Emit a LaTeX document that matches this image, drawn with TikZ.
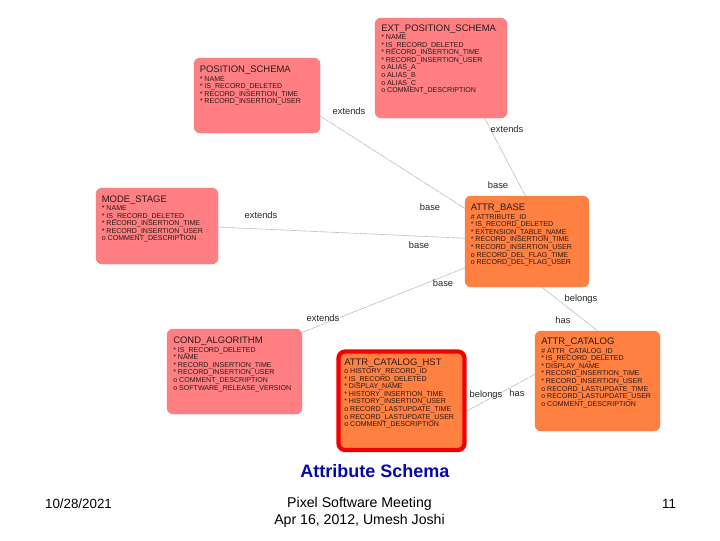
\documentclass[tikz,border=0pt]{standalone}
\usepackage{fontspec}
\setmainfont{Liberation Sans}
\definecolor{pinkbox}{HTML}{FF7F82}
\definecolor{orangebox}{HTML}{FF8040}
\definecolor{linkgray}{HTML}{BDBDBD}
\definecolor{textdark}{HTML}{2A1A1A}
\definecolor{titleblue}{HTML}{0808A8}
\newcommand{\ttl}[1]{{\fontsize{7.1pt}{7.6pt}\selectfont #1}\\[0.4pt]}
\tikzset{
  x=0.75pt,y=-0.75pt,
  erbox/.style={rounded corners=4.5pt,inner sep=0pt,line width=0.3pt},
  pinkent/.style={erbox,fill=pinkbox,draw=pinkbox!85!gray},
  orangeent/.style={erbox,fill=orangebox,draw=orangebox!85!gray},
  redent/.style={erbox,fill=orangebox,draw=red!95!black,line width=3.2pt,rounded corners=5pt},
  attrs/.style={anchor=north west,inner sep=0pt,align=left,text=textdark,
    font=\fontsize{5.3pt}{5.7pt}\selectfont},
  link/.style={draw=linkgray,line width=0.45pt,dash pattern=on 7pt off 0.6pt},
  rel/.style={font=\fontsize{7pt}{8pt}\selectfont,text=black!85,inner sep=0pt},
  footer/.style={font=\fontsize{10.6pt}{12.75pt}\selectfont,text=black,align=center,inner sep=0pt},
}
\newcommand{\ent}[7]{% name, style, x1,y1,x2,y2, width
  \path[#2] (#3,#4) rectangle (#5,#6);
  \node[#2,draw=none,fill=none,minimum width=#7*0.75pt,minimum height={(#6-#4)*0.75pt}] (#1)
    at ({(#3+#5)/2},{(#4+#6)/2}) {};
}
\begin{document}
\begin{tikzpicture}
\useasboundingbox[fill=white] (0,0) rectangle (720,540);

\ent{ext}{pinkent}{375}{18}{507}{118}{132}
\ent{pos}{pinkent}{194}{58}{320}{133}{126}
\ent{mode}{pinkent}{96}{188}{218}{264}{122}
\ent{base}{orangeent}{465}{196}{589}{287}{124}
\ent{cond}{pinkent}{167}{329}{302}{414}{135}
\ent{cat}{orangeent}{535}{331}{660}{431}{125}
\ent{hst}{redent}{338.5}{351.5}{464.5}{450}{126}

\draw[link] (pos.-18) -- (base.152);
\draw[link] (ext.-49) -- (base.92);
\draw[link] (mode.-1) -- (base.177);
\draw[link] (cond.30) -- (base.203);
\draw[link] (base.-72) -- (cat.90);
\draw[link] (hst.-9) -- (cat.174);

\node[attrs] (exttext) at (381,24.5) {\ttl{EXT\_POSITION\_SCHEMA}* NAME\\* IS\_RECORD\_DELETED\\* RECORD\_INSERTION\_TIME\\* RECORD\_INSERTION\_USER\\o ALIAS\_A\\o ALIAS\_B\\o ALIAS\_C\\o COMMENT\_DESCRIPTION};
\node[attrs] (postext) at (199.5,66) {\ttl{POSITION\_SCHEMA}* NAME\\* IS\_RECORD\_DELETED\\* RECORD\_INSERTION\_TIME\\* RECORD\_INSERTION\_USER};
\node[attrs] (modetext) at (101.5,195.5) {\ttl{MODE\_STAGE}* NAME\\* IS\_RECORD\_DELETED\\* RECORD\_INSERTION\_TIME\\* RECORD\_INSERTION\_USER\\o COMMENT\_DESCRIPTION};
\node[attrs] (basetext) at (470.5,204) {\ttl{ATTR\_BASE}\# ATTRIBUTE\_ID\\* IS\_RECORD\_DELETED\\* EXTENSION\_TABLE\_NAME\\* RECORD\_INSERTION\_TIME\\* RECORD\_INSERTION\_USER\\o RECORD\_DEL\_FLAG\_TIME\\o RECORD\_DEL\_FLAG\_USER};
\node[attrs] (condtext) at (173,337) {\ttl{COND\_ALGORITHM}* IS\_RECORD\_DELETED\\* NAME\\* RECORD\_INSERTION\_TIME\\* RECORD\_INSERTION\_USER\\o COMMENT\_DESCRIPTION\\o SOFTWARE\_RELEASE\_VERSION};
\node[attrs] (hsttext) at (344,358.5) {\ttl{ATTR\_CATALOG\_HST}o HISTORY\_RECORD\_ID\\* IS\_RECORD\_DELETED\\* DISPLAY\_NAME\\* HISTORY\_INSERTION\_TIME\\* HISTORY\_INSERTION\_USER\\o RECORD\_LASTUPDATE\_TIME\\o RECORD\_LASTUPDATE\_USER\\o COMMENT\_DESCRIPTION};
\node[attrs] (cattext) at (541,338) {\ttl{ATTR\_CATALOG}\# ATTR\_CATALOG\_ID\\* IS\_RECORD\_DELETED\\* DISPLAY\_NAME\\* RECORD\_INSERTION\_TIME\\* RECORD\_INSERTION\_USER\\o RECORD\_LASTUPDATE\_TIME\\o RECORD\_LASTUPDATE\_USER\\o COMMENT\_DESCRIPTION};

\node[rel] (l1) at (349,111) {extends};
\node[rel] (l2) at (507,129) {extends};
\node[rel] (l3) at (498,185) {base};
\node[rel] (l4) at (430,207) {base};
\node[rel] (l5) at (261,215) {extends};
\node[rel] (l6) at (419,245.5) {base};
\node[rel] (l7) at (443,283) {base};
\node[rel] (l8) at (323,318) {extends};
\node[rel] (l9) at (581,299) {belongs};
\node[rel] (l10) at (563,320) {has};
\node[rel] (l11) at (486,395) {belongs};
\node[rel] (l12) at (517,393) {has};

\node[font=\bfseries\fontsize{13.5pt}{15pt}\selectfont,text=titleblue,inner sep=0pt] (cap) at (375,471) {Attribute Schema};
\node[footer,font=\fontsize{10pt}{12pt}\selectfont] (date) at (78.5,504) {10/28/2021};
\node[footer,anchor=north] (mid) at (359.5,497) {Pixel Software Meeting\\Apr 16, 2012, Umesh Joshi};
\node[footer,font=\fontsize{10pt}{12pt}\selectfont] (num) at (669,504) {11};
\end{tikzpicture}
\end{document}
